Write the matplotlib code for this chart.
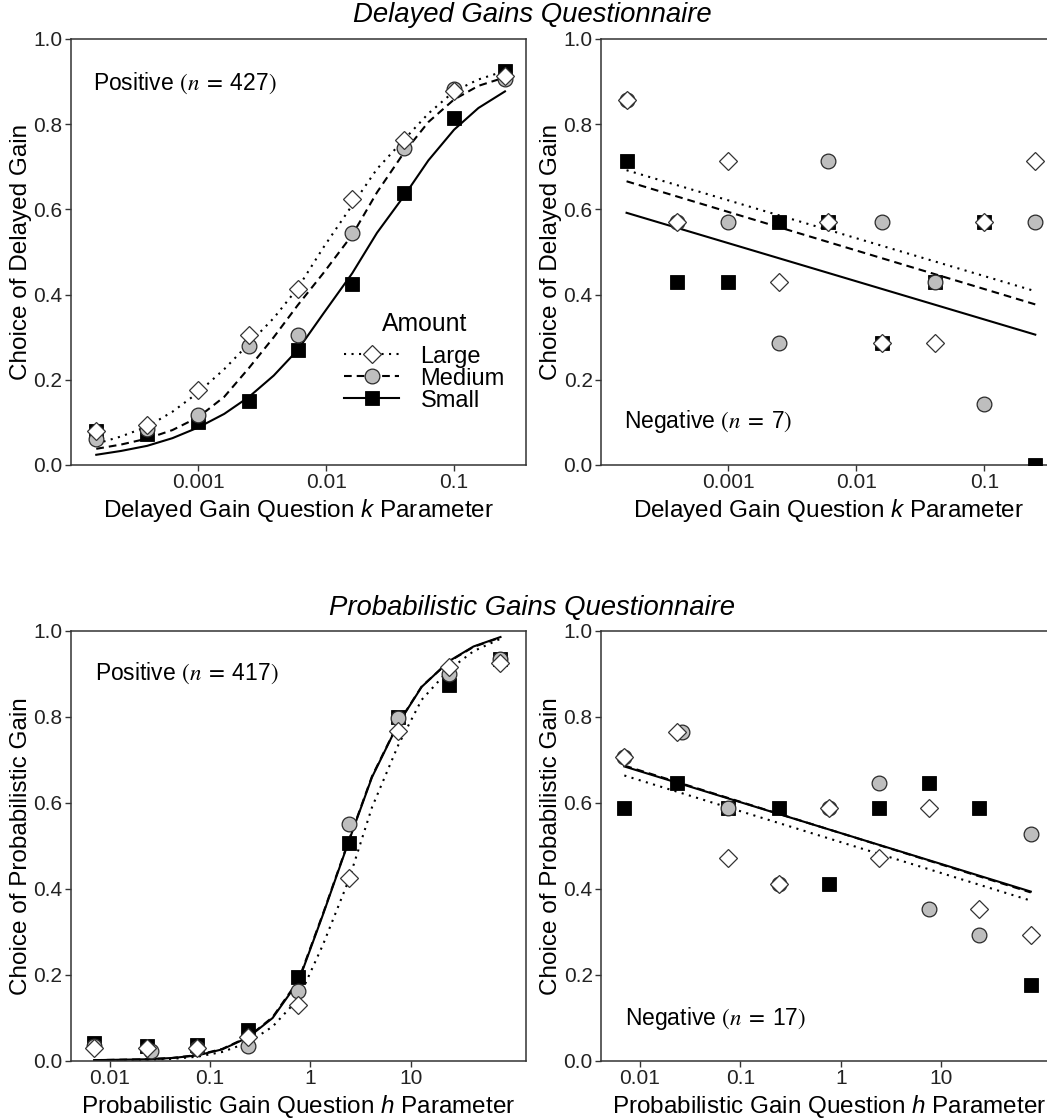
import matplotlib
matplotlib.use("Agg")
import matplotlib.pyplot as plt
from matplotlib.lines import Line2D
from matplotlib.ticker import FixedLocator, FixedFormatter, NullLocator

plt.rcParams['font.family'] = ['Liberation Sans', 'DejaVu Sans']
plt.rcParams['mathtext.fontset'] = 'custom'
plt.rcParams['mathtext.rm'] = 'Liberation Sans'
plt.rcParams['mathtext.it'] = 'Liberation Sans:italic'

# ---- Delayed gains: k parameter of each question ----
k_vals = [0.00016, 0.0004, 0.001, 0.0025, 0.006, 0.016, 0.041, 0.1, 0.25]

# positive group (n = 427): proportion choosing the delayed gain
dp_large = [0.079, 0.093, 0.176, 0.304, 0.414, 0.625, 0.763, 0.879, 0.912]
dp_medium = [0.061, 0.085, 0.118, 0.280, 0.306, 0.544, 0.743, 0.883, 0.906]
dp_small = [0.080, 0.073, 0.101, 0.150, 0.270, 0.424, 0.639, 0.814, 0.926]

# fitted curves
dp_curve_k = [0.00016, 0.00025, 0.0004, 0.00063, 0.001, 0.0016, 0.0025, 0.0039, 0.006,
              0.0095, 0.016, 0.025, 0.041, 0.063, 0.1, 0.155, 0.25]
dp_fit_large = [0.050, 0.067, 0.090, 0.125, 0.170, 0.225, 0.285, 0.345, 0.415,
                0.510, 0.610, 0.695, 0.765, 0.825, 0.877, 0.905, 0.925]
dp_fit_medium = [0.038, 0.048, 0.062, 0.082, 0.112, 0.160, 0.228, 0.300, 0.375,
                 0.450, 0.540, 0.640, 0.735, 0.805, 0.858, 0.890, 0.910]
dp_fit_small = [0.024, 0.033, 0.045, 0.063, 0.088, 0.120, 0.160, 0.210, 0.270,
                0.355, 0.450, 0.545, 0.633, 0.715, 0.787, 0.838, 0.877]

# negative group (n = 7)
dn_large = [0.857, 0.571, 0.714, 0.429, 0.571, 0.286, 0.286, 0.571, 0.714]
dn_medium = [0.857, 0.571, 0.571, 0.286, 0.714, 0.571, 0.429, 0.143, 0.571]
dn_small = [0.714, 0.429, 0.429, 0.571, 0.571, 0.286, 0.429, 0.571, 0.0]
dn_fit_k = [0.00016, 0.25]
dn_fit_large = [0.692, 0.408]
dn_fit_medium = [0.666, 0.377]
dn_fit_small = [0.592, 0.306]

# ---- Probabilistic gains: h parameter of each question ----
h_vals = [0.007, 0.0235, 0.075, 0.24, 0.76, 2.4, 7.5, 24, 78]
h_vals_medium = [0.007, 0.026, 0.075, 0.24, 0.76, 2.4, 7.5, 24, 78]

# positive group (n = 417)
pp_large = [0.031, 0.030, 0.030, 0.055, 0.131, 0.425, 0.768, 0.917, 0.925]
pp_medium = [0.035, 0.024, 0.030, 0.034, 0.162, 0.552, 0.797, 0.899, 0.935]
pp_small = [0.042, 0.034, 0.037, 0.073, 0.195, 0.508, 0.800, 0.875, 0.935]

pp_curve_h = [0.007, 0.0129, 0.0235, 0.042, 0.075, 0.132, 0.24, 0.42, 0.76,
              1.33, 2.4, 4.1, 7.5, 12.8, 24, 42, 78]
pp_fit_large = [0.001, 0.002, 0.003, 0.005, 0.010, 0.021, 0.043, 0.080, 0.145,
                0.270, 0.420, 0.590, 0.735, 0.840, 0.910, 0.953, 0.982]
pp_fit_medium = [0.002, 0.003, 0.004, 0.007, 0.014, 0.028, 0.056, 0.102, 0.188,
                 0.342, 0.512, 0.662, 0.786, 0.871, 0.929, 0.963, 0.985]
pp_fit_small = [0.002, 0.003, 0.004, 0.007, 0.013, 0.027, 0.055, 0.100, 0.185,
                0.340, 0.510, 0.660, 0.785, 0.870, 0.930, 0.964, 0.986]

# negative group (n = 17)
pn_large = [0.706, 0.765, 0.471, 0.412, 0.588, 0.471, 0.588, 0.353, 0.294]
pn_medium = [0.706, 0.765, 0.588, 0.412, 0.588, 0.647, 0.353, 0.294, 0.529]
pn_small = [0.588, 0.647, 0.588, 0.588, 0.412, 0.588, 0.647, 0.588, 0.176]
pn_fit_h = [0.007, 78]
pn_fit_large = [0.664, 0.373]
pn_fit_medium = [0.687, 0.392]
pn_fit_small = [0.685, 0.394]

amounts = ['Large', 'Medium', 'Small']

line_style = {'Large': (0, (1, 2.6)), 'Medium': (0, (3.7, 2.4)), 'Small': '-'}
marker_style = {
    'Large': dict(marker='D', ms=9.6, mfc='white', mec='#333333', mew=0.9, zorder=5),
    'Medium': dict(marker='o', ms=10.6, mfc='#BEBEBE', mec='#2a2a2a', mew=0.9, zorder=4),
    'Small': dict(marker='s', ms=10.2, mfc='black', mec='black', mew=0.6, zorder=3),
}

W, H = 1047, 1120
fig = plt.figure(figsize=(W / 100, H / 100), dpi=100)

top_y0, top_y1 = 465, 39
bot_y0, bot_y1 = 1061, 631
ax_tl = fig.add_axes([70.7 / W, (H - top_y0) / H, 455.3 / W, (top_y0 - top_y1) / H])
ax_tr = fig.add_axes([601 / W, (H - top_y0) / H, 455.3 / W, (top_y0 - top_y1) / H])
ax_bl = fig.add_axes([70.7 / W, (H - bot_y0) / H, 455.3 / W, (bot_y0 - bot_y1) / H])
ax_br = fig.add_axes([601 / W, (H - bot_y0) / H, 455.3 / W, (bot_y0 - bot_y1) / H])


def draw(ax, xs, pts, cx, fits, xticks, xticklabels, xlim, xlabel, ylabel):
    for a in amounts:
        ax.plot(cx[a], fits[a], color='black', lw=1.5, ls=line_style[a], zorder=2)
    for a in ['Small', 'Medium', 'Large']:
        ax.plot(xs[a], pts[a], ls='none', **marker_style[a])
    ax.set_xscale('log')
    ax.set_xlim(*xlim)
    ax.set_ylim(0, 1)
    ax.xaxis.set_major_locator(FixedLocator(xticks))
    ax.xaxis.set_major_formatter(FixedFormatter(xticklabels))
    ax.xaxis.set_minor_locator(NullLocator())
    ax.set_yticks([0, 0.2, 0.4, 0.6, 0.8, 1.0])
    ax.set_yticklabels(['0.0', '0.2', '0.4', '0.6', '0.8', '1.0'])
    ax.tick_params(direction='out', length=4, width=1, color='#333333',
                   labelsize=15, labelcolor='#222222', pad=2)
    for s in ax.spines.values():
        s.set_color('#333333')
        s.set_linewidth(1.1)
    ax.set_xlabel(xlabel, fontsize=17.5, labelpad=3)
    ax.set_ylabel(ylabel, fontsize=17.5, labelpad=1)


k_ticks = [0.001, 0.01, 0.1]
k_labels = ['0.001', '0.01', '0.1']
h_ticks = [0.01, 0.1, 1, 10]
h_labels = ['0.01', '0.1', '1', '10']
k_lim = (1.01e-4, 0.365)
h_lim = (0.0041, 140)

draw(ax_tl, dict(Large=k_vals, Medium=k_vals, Small=k_vals),
     dict(Large=dp_large, Medium=dp_medium, Small=dp_small),
     dict(Large=dp_curve_k, Medium=dp_curve_k, Small=dp_curve_k),
     dict(Large=dp_fit_large, Medium=dp_fit_medium, Small=dp_fit_small),
     k_ticks, k_labels, k_lim,
     'Delayed Gain Question $k$ Parameter', 'Choice of Delayed Gain')
draw(ax_tr, dict(Large=k_vals, Medium=k_vals, Small=k_vals),
     dict(Large=dn_large, Medium=dn_medium, Small=dn_small),
     dict(Large=dn_fit_k, Medium=dn_fit_k, Small=dn_fit_k),
     dict(Large=dn_fit_large, Medium=dn_fit_medium, Small=dn_fit_small),
     k_ticks, k_labels, k_lim,
     'Delayed Gain Question $k$ Parameter', 'Choice of Delayed Gain')
draw(ax_bl, dict(Large=h_vals, Medium=h_vals_medium, Small=h_vals),
     dict(Large=pp_large, Medium=pp_medium, Small=pp_small),
     dict(Large=pp_curve_h, Medium=pp_curve_h, Small=pp_curve_h),
     dict(Large=pp_fit_large, Medium=pp_fit_medium, Small=pp_fit_small),
     h_ticks, h_labels, h_lim,
     'Probabilistic Gain Question $h$ Parameter', 'Choice of Probabilistic Gain')
draw(ax_br, dict(Large=h_vals, Medium=h_vals_medium, Small=h_vals),
     dict(Large=pn_large, Medium=pn_medium, Small=pn_small),
     dict(Large=pn_fit_h, Medium=pn_fit_h, Small=pn_fit_h),
     dict(Large=pn_fit_large, Medium=pn_fit_medium, Small=pn_fit_small),
     h_ticks, h_labels, h_lim,
     'Probabilistic Gain Question $h$ Parameter', 'Choice of Probabilistic Gain')

# group annotations
note_kw = dict(fontsize=16.5, math_fontfamily='stix', va='center', ha='left')
ax_tl.text(0.049, 0.896, r'Positive $(n\;=\;$427$)$', transform=ax_tl.transAxes, **note_kw)
ax_tr.text(0.050, 0.102, r'Negative $(n\;=\;$7$)$', transform=ax_tr.transAxes, **note_kw)
ax_bl.text(0.053, 0.901, r'Positive $(n\;=\;$417$)$', transform=ax_bl.transAxes, **note_kw)
ax_br.text(0.053, 0.099, r'Negative $(n\;=\;$17$)$', transform=ax_br.transAxes, **note_kw)

# legend
handles = [Line2D([0], [0], color='black', lw=1.5, ls=line_style[a],
                  **{k: v for k, v in marker_style[a].items() if k != 'zorder'})
           for a in amounts]
leg = ax_tl.legend(handles, amounts, title='Amount', loc='upper left',
                   bbox_to_anchor=(0.60, 0.358), frameon=False, fontsize=17,
                   title_fontsize=17.8, handlelength=2.35, handletextpad=0.9,
                   labelspacing=0.0, borderpad=0, borderaxespad=0, numpoints=1)
leg._legend_box.sep = 6.5

fig.text(532 / W, 1 - 15 / H, 'Delayed Gains Questionnaire', style='italic',
         fontsize=19.8, ha='center', va='center')
fig.text(532 / W, 1 - 608 / H, 'Probabilistic Gains Questionnaire', style='italic',
         fontsize=19.8, ha='center', va='center')

fig.savefig('out.png', dpi=100)
